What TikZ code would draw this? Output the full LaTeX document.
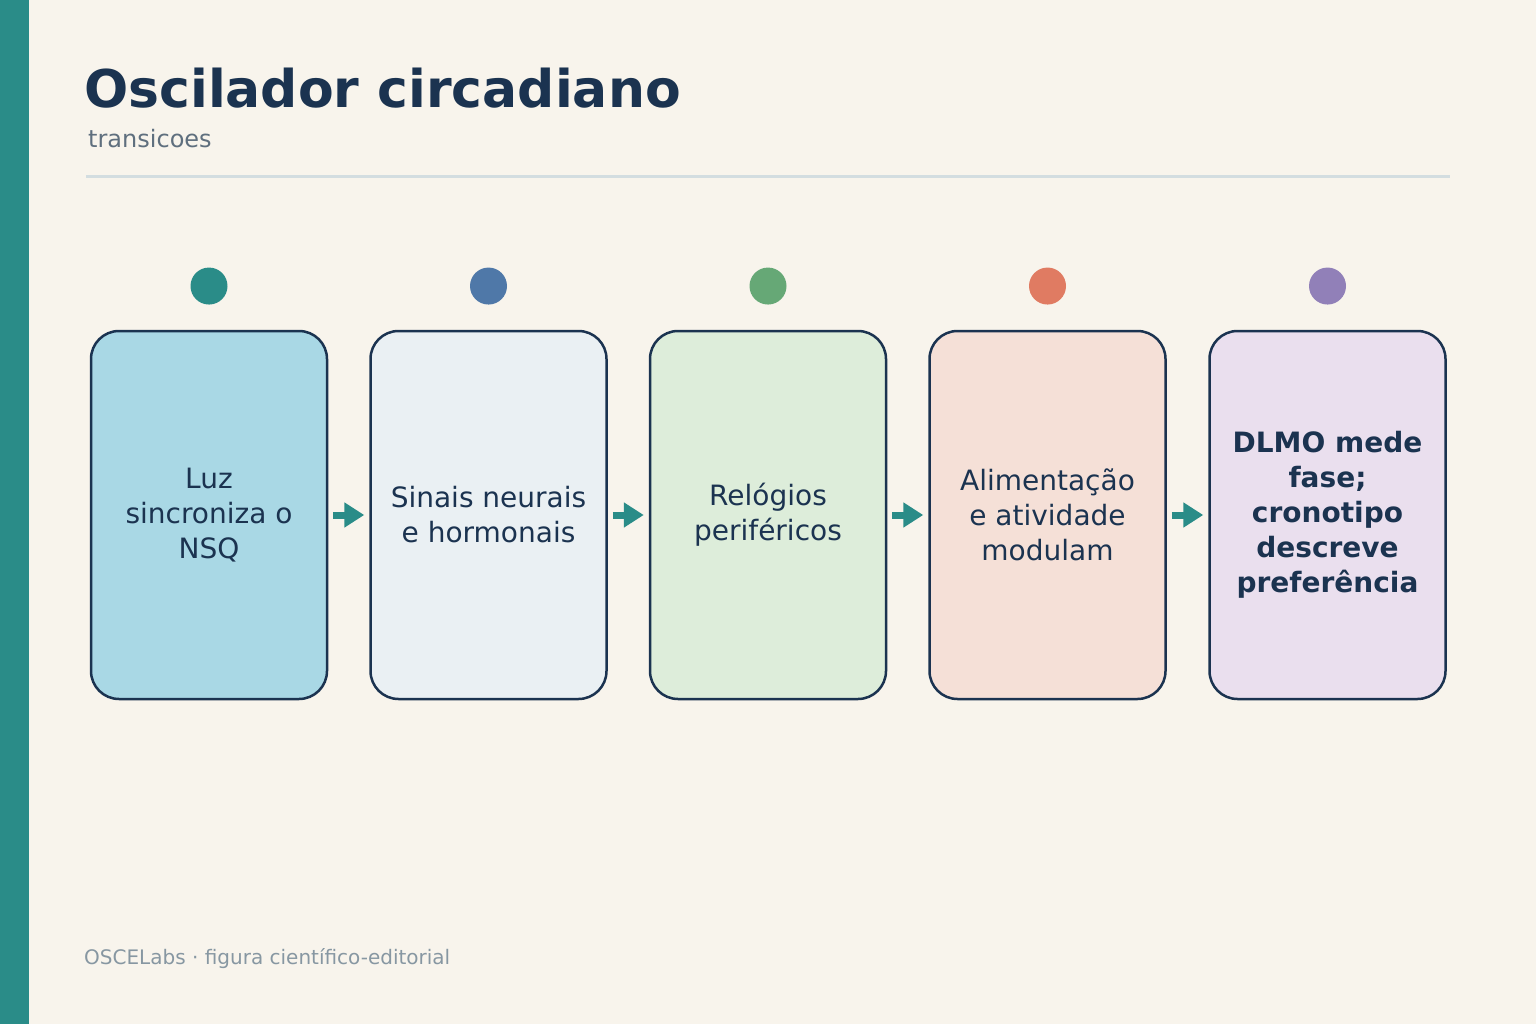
\documentclass[tikz,border=0pt]{standalone}
\usepackage{fontspec}
\setmainfont{DejaVu Sans}
\usetikzlibrary{arrows.meta,positioning}

\definecolor{paper}{HTML}{F8F4EC}
\definecolor{navy}{HTML}{1B3350}
\definecolor{tealc}{HTML}{2A8C88}
\definecolor{subgray}{HTML}{5F6F7E}
\definecolor{footgray}{HTML}{8797A2}
\definecolor{rulegray}{HTML}{D3DDE0}
\definecolor{fillone}{HTML}{A9D8E5}
\definecolor{filltwo}{HTML}{EAF0F3}
\definecolor{fillthree}{HTML}{DDEDDA}
\definecolor{fillfour}{HTML}{F5E0D7}
\definecolor{fillfive}{HTML}{EADFEE}
\definecolor{dotblue}{HTML}{4F78A8}
\definecolor{dotgreen}{HTML}{66A876}
\definecolor{dotred}{HTML}{E07B62}
\definecolor{dotpurple}{HTML}{9180B8}

\begin{document}
\begin{tikzpicture}[x=1pt,y=-1pt]
    % Define the styles for the stages, dots and arrows
    \tikzstyle{stage}=[rectangle, rounded corners=28pt, draw=navy, line width=2.5pt, text=navy, align=center, minimum width=236pt, minimum height=368pt, font=\fontsize{28}{35}\selectfont]
    \tikzstyle{dot}=[circle, minimum size=37pt, inner sep=0pt]
    \tikzstyle{arrow}=[draw=tealc, line width=7pt, -{Triangle[length=20pt,width=24pt]}, shorten <=5pt, shorten >=5pt]

    % Background, side bar and header
    \fill[paper] (0,0) rectangle (1536,1024);
    \fill[tealc] (0,0) rectangle (29,1024);
    \node[anchor=base west, inner sep=0pt, text=navy, font=\fontsize{52}{60}\selectfont\bfseries] (title) at (84,108) {Oscilador circadiano};
    \node[anchor=base west, inner sep=0pt, text=subgray, font=\fontsize{24}{28}\selectfont] (subtitle) at (88,148) {transicoes};
    \draw[rulegray, line width=3pt] (86,177) -- (1450,177);

    % Draw the stages
    \node[stage, fill=fillone] (luz) at (209,515) {Luz\\sincroniza o\\NSQ};
    \node[stage, fill=filltwo] (sinais) at (488.5,515) {Sinais neurais\\e hormonais};
    \node[stage, fill=fillthree] (relogios) at (768,515) {Relógios\\periféricos};
    \node[stage, fill=fillfour] (alimentacao) at (1047.5,515) {Alimentação\\e atividade\\modulam};
    \node[stage, fill=fillfive, font=\fontsize{28}{35}\selectfont\bfseries] (dlmo) at (1327.5,515) {DLMO mede\\fase;\\cronotipo\\descreve\\preferência};

    % Draw the dots above the stages
    \node[dot, fill=tealc, above=25pt of luz] (dot_luz) {};
    \node[dot, fill=dotblue, above=25pt of sinais] (dot_sinais) {};
    \node[dot, fill=dotgreen, above=25pt of relogios] (dot_relogios) {};
    \node[dot, fill=dotred, above=25pt of alimentacao] (dot_alimentacao) {};
    \node[dot, fill=dotpurple, above=25pt of dlmo] (dot_dlmo) {};

    % Draw the arrows between the stages
    \draw[arrow] (luz) -- (sinais);
    \draw[arrow] (sinais) -- (relogios);
    \draw[arrow] (relogios) -- (alimentacao);
    \draw[arrow] (alimentacao) -- (dlmo);

    % Footer
    \node[anchor=base west, inner sep=0pt, text=footgray, font=\fontsize{20}{24}\selectfont] (footer) at (84,964) {OSCELabs · figura científico-editorial};
\end{tikzpicture}
\end{document}
